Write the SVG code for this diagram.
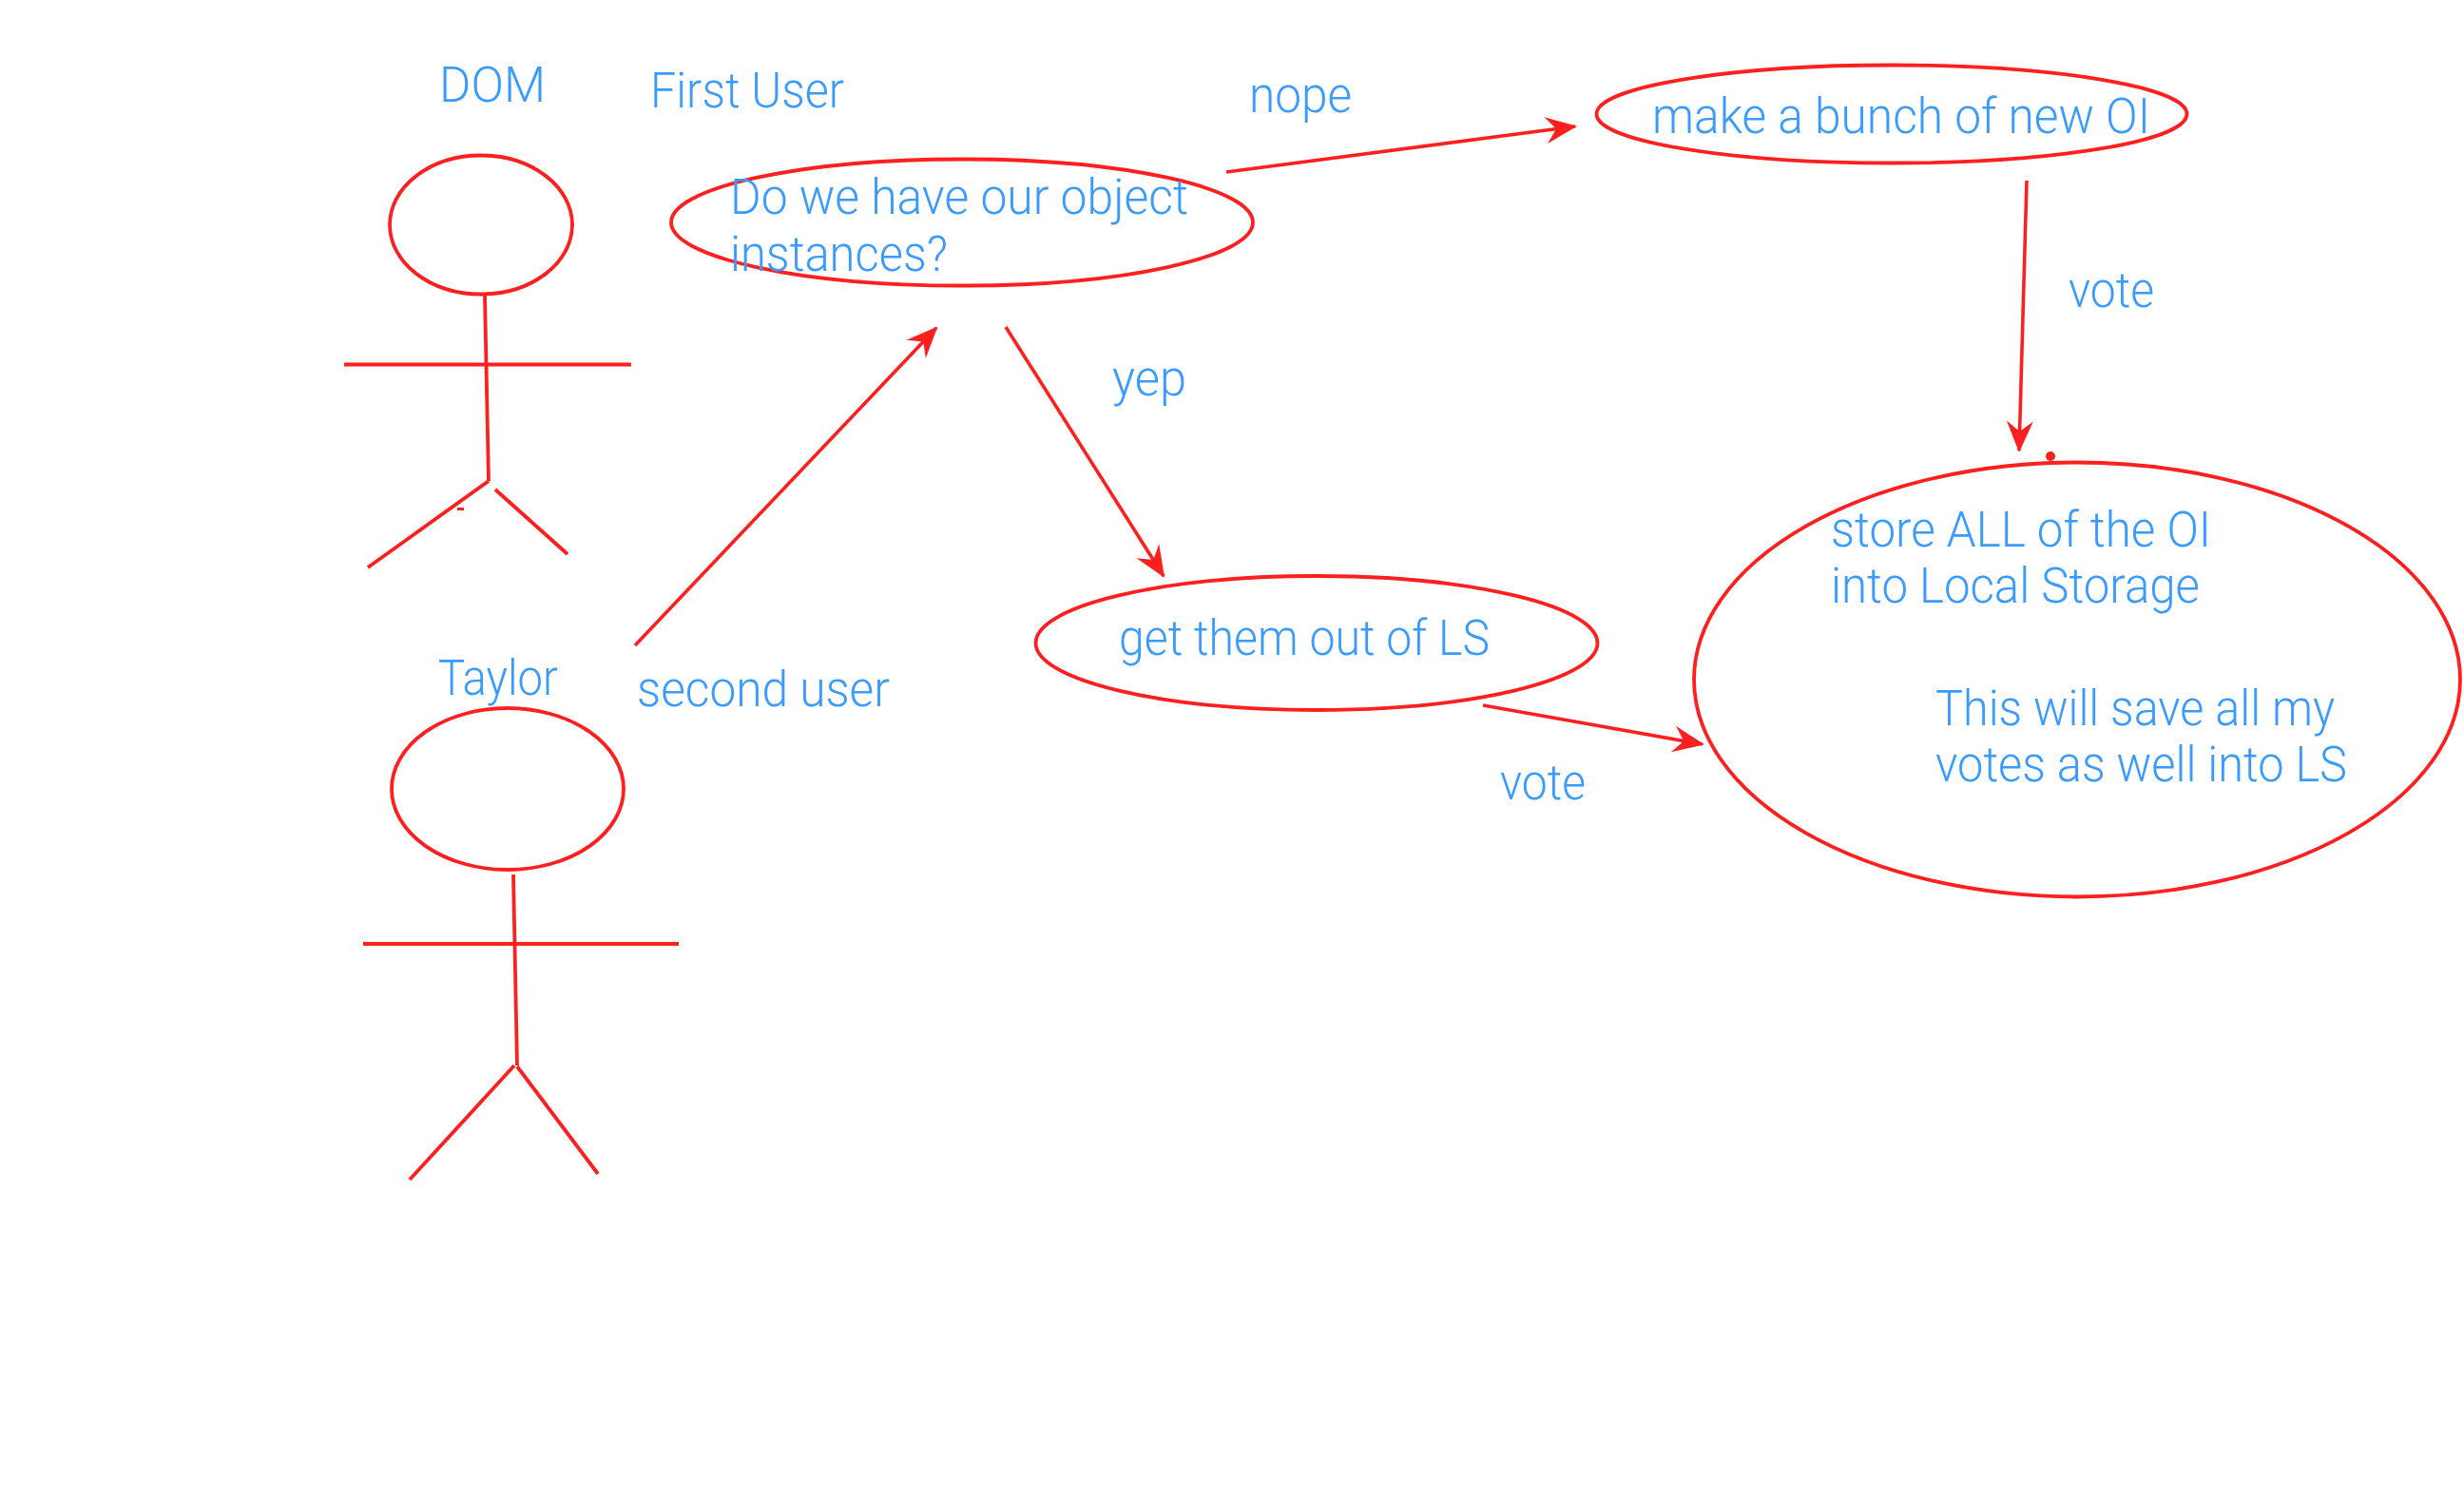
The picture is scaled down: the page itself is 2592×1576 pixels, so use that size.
<svg xmlns="http://www.w3.org/2000/svg" width="2592" height="1576" viewBox="0 0 2592 1576">
<style>
text{font-family:"Roboto","Liberation Sans",sans-serif;font-weight:300;font-size:51px;fill:#3a9bff}
.s{fill:none;stroke:#fe1f1f;stroke-width:3.8}
.c{fill:none;stroke:#fe1f1f;stroke-width:3.6;marker-end:url(#a)}
</style>
<defs><marker id="a" markerUnits="userSpaceOnUse" markerWidth="40" markerHeight="36" refX="33" refY="18" orient="auto"><path d="M35,18 L2,4 L13,18 L2,32 Z" fill="#fe1f1f"/></marker></defs>
<rect width="2592" height="1576" fill="#fff"/>
<g id="dom"><ellipse class="s" cx="506" cy="236.5" rx="96" ry="73"/><path class="s" d="M510,311 L514,506 M362,383.5 H664 M514,506 L387,597 M521,515 L597,583"/><rect x="481" y="534" width="7" height="3" fill="#fe1f1f"/><text x="462" y="106.5" textLength="112" lengthAdjust="spacingAndGlyphs">DOM</text></g>
<g id="taylor"><ellipse class="s" cx="534" cy="830" rx="122" ry="85"/><path class="s" d="M540,920 L544,1121 M382,993 H714 M541,1121 L431,1241 M544,1122 L629,1235"/><text x="461" y="730.5" textLength="126" lengthAdjust="spacingAndGlyphs">Taylor</text></g>
<g id="first-user"><text x="684" y="113" textLength="204" lengthAdjust="spacingAndGlyphs">First User</text></g>
<g id="question"><ellipse class="s" cx="1012" cy="234" rx="306" ry="66.5"/><text x="768" y="225" textLength="482" lengthAdjust="spacingAndGlyphs">Do we have our object</text><text x="768" y="285" textLength="229" lengthAdjust="spacingAndGlyphs">instances?</text></g>
<g id="make-oi"><ellipse class="s" cx="1990" cy="120" rx="310.5" ry="51.5"/><text x="1738" y="139.5" textLength="524" lengthAdjust="spacingAndGlyphs">make a bunch of new OI</text></g>
<g id="get-ls"><ellipse class="s" cx="1385" cy="676.5" rx="295.5" ry="70.5"/><text x="1177" y="689" textLength="390" lengthAdjust="spacingAndGlyphs">get them out of LS</text></g>
<g id="store"><ellipse class="s" cx="2185" cy="715" rx="403" ry="228.5"/><circle cx="2157" cy="480" r="5" fill="#fe1f1f"/><text x="1926" y="574.5" textLength="400" lengthAdjust="spacingAndGlyphs">store ALL of the OI</text><text x="1926" y="634" textLength="388" lengthAdjust="spacingAndGlyphs">into Local Storage</text><text x="2036" y="762.5" textLength="420" lengthAdjust="spacingAndGlyphs">This will save all my</text><text x="2036" y="822" textLength="433" lengthAdjust="spacingAndGlyphs">votes as well into LS</text></g>
<g id="connectors">
<path class="c" d="M668,679 L985,345"/><path class="c" d="M1058,344 L1224,606"/><path class="c" d="M1290,181 L1657,133"/><path class="c" d="M2132,190 L2124,474"/><path class="c" d="M1560,742 L1791,783"/>
<text x="670" y="742.5" textLength="266" lengthAdjust="spacingAndGlyphs">second user</text><text x="1170" y="416" textLength="78" lengthAdjust="spacingAndGlyphs">yep</text><text x="1314" y="117.5" textLength="108" lengthAdjust="spacingAndGlyphs">nope</text><text x="2176" y="323" textLength="90" lengthAdjust="spacingAndGlyphs">vote</text><text x="1578" y="840.5" textLength="90" lengthAdjust="spacingAndGlyphs">vote</text>
</g>
</svg>
